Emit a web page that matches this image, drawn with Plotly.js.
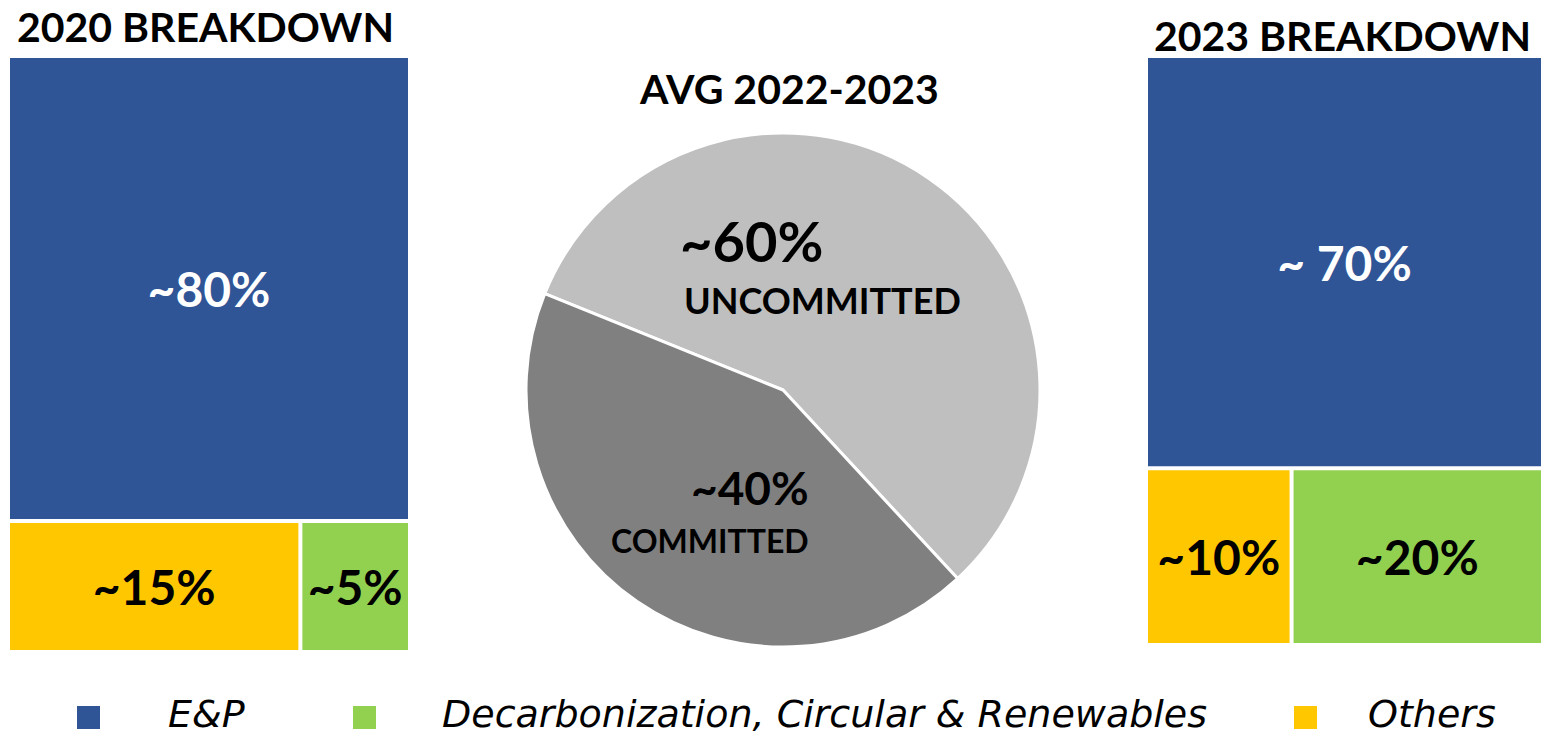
<!DOCTYPE html>
<html>
<head>
<meta charset="utf-8">
<script src="https://cdn.plot.ly/plotly-3.0.1.min.js"></script>
<style>html,body{margin:0;padding:0;background:#fff;}#chart{width:1545px;height:740px;}</style>
</head>
<body>
<div id="chart"></div>
<script>
// ---- data ----
const segments = ["E&P", "Others", "Decarbonization, Circular & Renewables"];
const values2020 = [78, 16, 6];
const labels2020 = ["~80%", "~15%", "~5%"];
const values2023 = [70, 11, 19];
const labels2023 = ["~ 70%", "~10%", "~20%"];
const pieCategories = ["UNCOMMITTED", "COMMITTED"];
const pieValues = [57, 43];
const pieLabels = ["~60%", "~40%"];
const legendItems = ["E&P", "Decarbonization, Circular & Renewables", "Others"];

// ---- styles ----
const segColors = {"E&P": "#2F5597", "Others": "#FFC700", "Decarbonization, Circular & Renewables": "#92D050"};
const FONT = "Lato, 'Open Sans', sans-serif";
const LEGFONT = "'DejaVu Sans', 'Open Sans', sans-serif";
const W = 1545, H = 740;
const px = x => x / W;
const py = y => 1 - y / H;

function treemap(values, texts, xd, yd) {
  return {
    type: "treemap",
    labels: segments,
    parents: segments.map(() => ""),
    values: values,
    text: texts,
    textinfo: "text",
    texttemplate: "%{text}",
    textposition: "middle center",
    sort: false,
    branchvalues: "total",
    tiling: {packing: "binary", pad: 4},
    marker: {colors: segments.map(s => segColors[s]), line: {width: 0}, pad: {t: 0, l: 0, r: 0, b: 0}},
    pathbar: {visible: false},
    textfont: {family: FONT, size: 48, color: ["#ffffff", "#000000", "#000000"], weight: "bold"},
    hoverinfo: "skip",
    domain: {x: xd, y: yd}
  };
}

const traces = [
  treemap(values2020, labels2020, [px(10), px(408)], [py(650), py(58)]),
  treemap(values2023, labels2023, [px(1148), px(1541)], [py(643), py(58)]),
  {
    type: "pie",
    labels: pieCategories,
    values: pieValues,
    sort: false,
    direction: "clockwise",
    rotation: -68,
    textinfo: "none",
    hoverinfo: "skip",
    showlegend: false,
    marker: {colors: ["#BFBFBF", "#808080"], line: {color: "#ffffff", width: 3}},
    domain: {x: [px(526), px(1040)], y: [py(647), py(133)]}
  }
];

const ann = [];
function addText(text, x, y, size, opts) {
  ann.push(Object.assign({
    text: text, x: px(x), y: py(y), xref: "paper", yref: "paper",
    showarrow: false, xanchor: "center", yanchor: "middle",
    font: {family: FONT, size: size, color: "#000", weight: "bold"}
  }, opts || {}));
}
addText("2020 BREAKDOWN", 205, 27, 41);
addText("2023 BREAKDOWN", 1342, 36, 41);
addText("AVG 2022-2023", 789, 88, 41);
addText(pieLabels[0], 751, 240, 56);
addText(pieCategories[0], 822, 300, 36);
addText(pieLabels[1], 750, 487, 46);
addText(pieCategories[1], 710, 540, 32);

// legend
const legendSquareX = [77, 353, 1294];
const legendTextX = [166, 440, 1366];
const shapes = [];
legendItems.forEach((name, i) => {
  shapes.push({type: "rect", xref: "paper", yref: "paper",
    x0: px(legendSquareX[i]), x1: px(legendSquareX[i] + 23), y0: py(729), y1: py(706),
    fillcolor: segColors[name], line: {width: 0}});
  ann.push({text: name, x: px(legendTextX[i]), y: py(714), xref: "paper", yref: "paper",
    showarrow: false, xanchor: "left", yanchor: "middle",
    font: {family: LEGFONT, size: 38, color: "#000", style: "italic"}});
});

const layout = {
  width: W, height: H,
  margin: {l: 0, r: 0, t: 0, b: 0},
  paper_bgcolor: "#ffffff",
  plot_bgcolor: "#ffffff",
  showlegend: false,
  annotations: ann,
  shapes: shapes
};

Plotly.newPlot("chart", traces, layout, {displayModeBar: false, staticPlot: true});
</script>
</body>
</html>
